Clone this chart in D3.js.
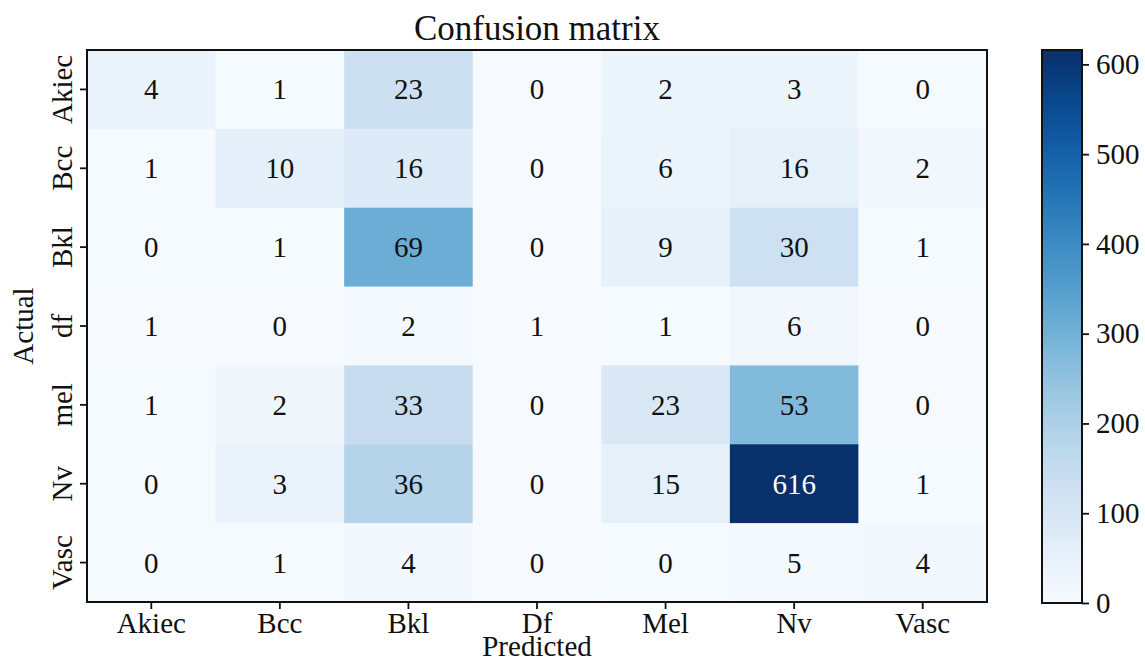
<!DOCTYPE html>
<html><head><meta charset="utf-8">
<script src="https://cdn.jsdelivr.net/npm/d3@7"></script>
<style>body{margin:0;background:#fff}svg{display:block}text{font-family:"Liberation Serif","Times New Roman",serif;fill:#111}</style>
</head><body><svg id="c" width="1145" height="663"></svg>
<script>
const predictedLabels = ["Akiec","Bcc","Bkl","Df","Mel","Nv","Vasc"];
const actualLabels = ["Akiec","Bcc","Bkl","df","mel","Nv","Vasc"];
const counts = [
  [4,1,23,0,2,3,0],
  [1,10,16,0,6,16,2],
  [0,1,69,0,9,30,1],
  [1,0,2,1,1,6,0],
  [1,2,33,0,23,53,0],
  [0,3,36,0,15,616,1],
  [0,1,4,0,0,5,4]
];
// shading level of each cell (on the colour-bar scale)
const shade = [
  [40,5,130,4,30,30,5],
  [5,60,80,4,35,55,20],
  [5,5,310,3,50,125,5],
  [3,3,10,3,5,20,3],
  [5,25,145,3,90,275,3],
  [5,40,185,3,55,616,5],
  [5,5,15,3,5,10,15]
];
const colorTicks = [0,100,200,300,400,500,600];
const colorMax = 616;
const FS = "29px";

const svg = d3.select("#c");
const L=87,R=987,T=50,B=602;
const x = d3.scaleBand().domain(predictedLabels).range([L,R]);
const y = d3.scaleBand().domain(actualLabels).range([T,B]);
const color = d3.scaleSequential(d3.interpolateBlues).domain([0,colorMax]);

const cells=[];
counts.forEach((row,i)=>row.forEach((v,j)=>cells.push({r:i,c:j,v,s:shade[i][j]})));
svg.append("g").selectAll("rect").data(cells).join("rect")
  .attr("x",d=>x(predictedLabels[d.c])).attr("y",d=>y(actualLabels[d.r]))
  .attr("width",x.bandwidth()+0.5).attr("height",y.bandwidth()+0.5)
  .attr("fill",d=>color(d.s));
svg.append("g").selectAll("text").data(cells).join("text")
  .attr("x",d=>x(predictedLabels[d.c])+x.bandwidth()/2)
  .attr("y",d=>y(actualLabels[d.r])+y.bandwidth()/2)
  .attr("text-anchor","middle").attr("dominant-baseline","central")
  .style("font-size",FS)
  .style("fill",d=>d.s>400?"#fff":"#111")
  .text(d=>d.v);

svg.append("rect").attr("x",L).attr("y",T).attr("width",R-L).attr("height",B-T)
  .attr("fill","none").attr("stroke","#111").attr("stroke-width",2);

const xa = svg.append("g").attr("transform",`translate(0,${B})`)
  .call(d3.axisBottom(x).tickSize(7).tickSizeOuter(0));
xa.select(".domain").remove();
xa.selectAll("line").attr("stroke","#111").attr("stroke-width",1.8);
xa.selectAll("text").style("font-size",FS).attr("fill","#111");

const ya = svg.append("g").attr("transform",`translate(${L},0)`)
  .call(d3.axisLeft(y).tickSize(7).tickSizeOuter(0));
ya.select(".domain").remove();
ya.selectAll("line").attr("stroke","#111").attr("stroke-width",1.8);
ya.selectAll("text").style("font-size",FS).attr("fill","#111")
  .attr("text-anchor","middle").attr("x",0).attr("dy",0)
  .attr("transform","translate(-15,0) rotate(-90)");

svg.append("text").attr("x",537).attr("y",40).attr("text-anchor","middle")
  .style("font-size","35px").text("Confusion matrix");
svg.append("text").attr("x",537).attr("y",656).attr("text-anchor","middle")
  .style("font-size",FS).text("Predicted");
svg.append("text").attr("transform",`translate(33,${(T+B)/2}) rotate(-90)`)
  .attr("text-anchor","middle").style("font-size",FS).text("Actual");

// colour bar
const CX=1042,CW=40,CT=50,CB=603;
const cy = d3.scaleLinear().domain([0,colorMax]).range([CB,CT]);
const defs = svg.append("defs");
const grad = defs.append("linearGradient").attr("id","g").attr("x1",0).attr("y1",1).attr("x2",0).attr("y2",0);
d3.range(0,1.0001,0.05).forEach(t=>grad.append("stop").attr("offset",t).attr("stop-color",color(t*colorMax)));
svg.append("rect").attr("x",CX).attr("y",CT).attr("width",CW).attr("height",CB-CT)
  .attr("fill","url(#g)").attr("stroke","#111").attr("stroke-width",2);
const ca = svg.append("g").attr("transform",`translate(${CX+CW},0)`)
  .call(d3.axisRight(cy).tickValues(colorTicks).tickSize(7).tickSizeOuter(0));
ca.select(".domain").remove();
ca.selectAll("line").attr("stroke","#111").attr("stroke-width",1.8);
ca.selectAll("text").style("font-size",FS).attr("fill","#111").attr("x",14);
</script></body></html>
